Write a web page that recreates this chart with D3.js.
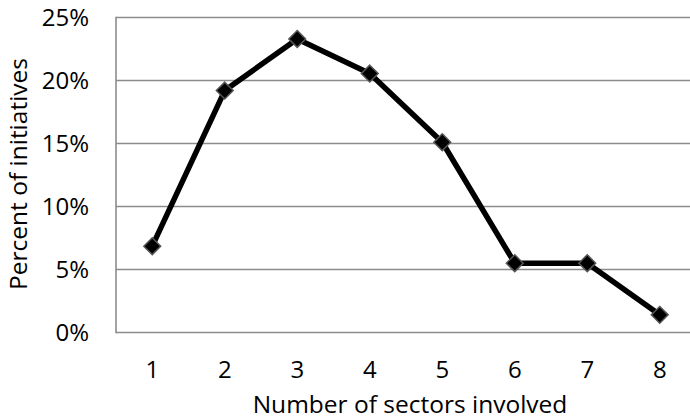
<!DOCTYPE html>
<html><head><meta charset="utf-8">
<script src="https://cdn.jsdelivr.net/npm/d3@7"></script>
<style>body{margin:0;background:#fff}svg{display:block}text{font-family:"Open Sans",sans-serif;fill:#000}</style>
</head><body><svg id="c" width="690" height="419"></svg>
<script>
const categories = ["1","2","3","4","5","6","7","8"];
const values = [6.85, 19.2, 23.3, 20.55, 15.1, 5.5, 5.5, 1.4];
const yTicks = [0, 5, 10, 15, 20, 25];
const xTitle = "Number of sectors involved";
const yTitle = "Percent of initiatives";

const svg = d3.select("#c");
const m = {left:116, top:17.5, right:696, bottom:332.5};
const x = d3.scaleBand().domain(categories).range([m.left, m.right]);
const y = d3.scaleLinear().domain([0,25]).range([m.bottom, m.top]);

svg.append("g").selectAll("line").data(yTicks).join("line")
  .attr("x1", m.left).attr("x2", m.right)
  .attr("y1", d=>y(d)).attr("y2", d=>y(d))
  .attr("stroke", "#8c8c8c").attr("stroke-width", 1.6);
svg.append("line").attr("x1", m.left).attr("x2", m.left).attr("y1", m.top-0.8).attr("y2", m.bottom+0.8)
  .attr("stroke", "#8c8c8c").attr("stroke-width", 1.6);

svg.append("g").selectAll("text").data(yTicks).join("text")
  .attr("x", 89).attr("y", d=>y(d)).attr("dy", "0.36em")
  .attr("text-anchor", "end").attr("font-size", 24)
  .text(d=>d+"%");
svg.append("g").selectAll("text").data(categories).join("text")
  .attr("x", d=>x(d)+x.bandwidth()/2).attr("y", 378)
  .attr("text-anchor", "middle").attr("font-size", 24)
  .text(d=>d);
svg.append("text").attr("x", 410).attr("y", 413).attr("text-anchor","middle").attr("font-size", 24.5).text(xTitle);
svg.append("text").attr("transform", "translate(27,174) rotate(-90)").attr("text-anchor","middle").attr("font-size", 24.5).text(yTitle);

const line = d3.line().x((d,i)=>x(categories[i])+x.bandwidth()/2).y(d=>y(d));
svg.append("path").datum(values).attr("d", line).attr("fill","none")
  .attr("stroke","#000").attr("stroke-width",5.5).attr("stroke-linejoin","round");
const sym = d3.symbol().type(d3.symbolDiamond2).size(180);
svg.append("g").selectAll("path").data(values).join("path")
  .attr("transform", (d,i)=>`translate(${x(categories[i])+x.bandwidth()/2},${y(d)})`)
  .attr("d", sym).attr("fill","#000").attr("stroke","#555").attr("stroke-width",1.5);
</script></body></html>
